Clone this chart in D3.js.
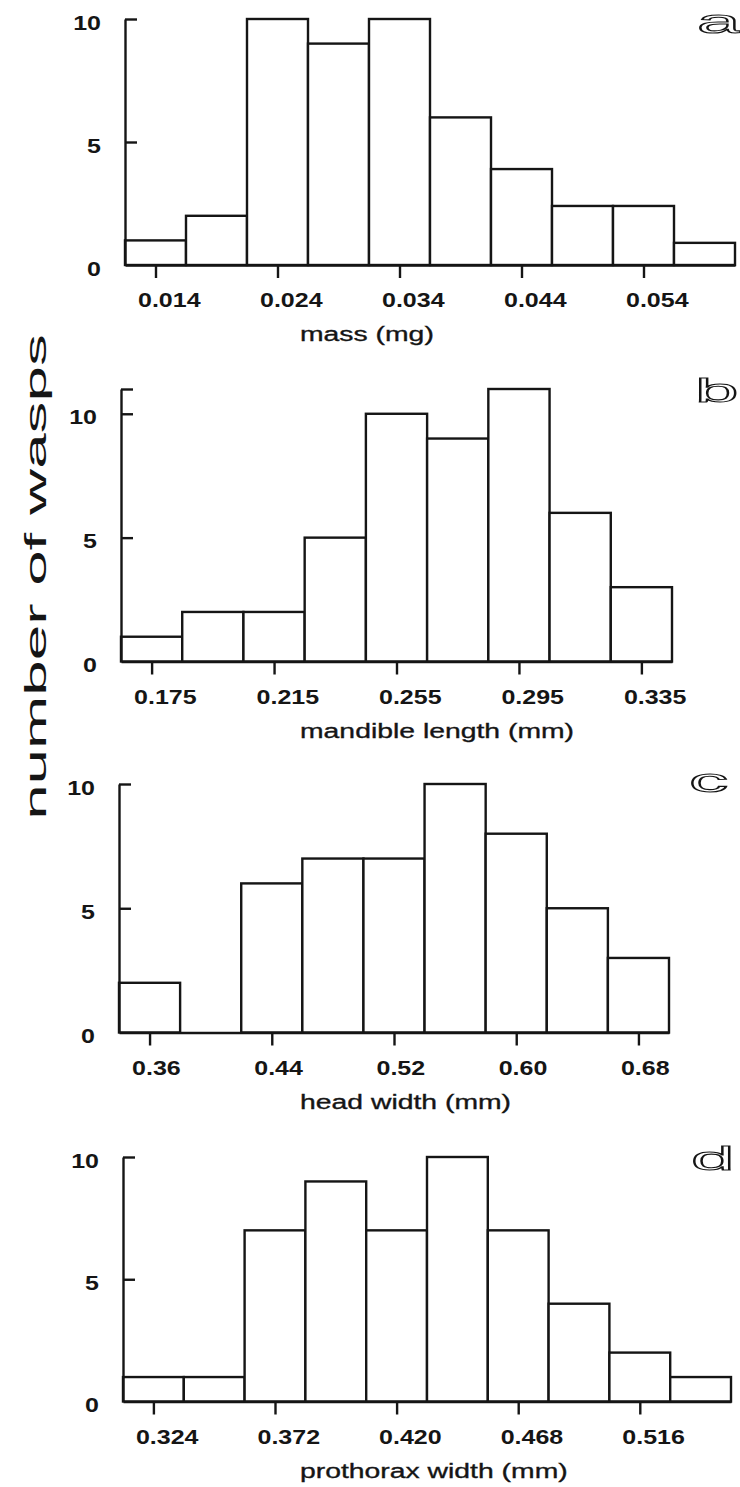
<!DOCTYPE html>
<html><head><meta charset="utf-8">
<script src="https://cdn.jsdelivr.net/npm/d3@7"></script>
<style>body{margin:0;background:#fff}svg{display:block}</style>
</head><body>
<script>
// ---------- data ----------
const massCenters = [0.014, 0.019, 0.024, 0.029, 0.034, 0.039, 0.044, 0.049, 0.054, 0.059];
const massCounts  = [1, 2, 10, 9, 10, 6, 3.9, 2.4, 2.4, 0.9];
const massTicks   = ["0.014", "0.024", "0.034", "0.044", "0.054"];

const mandibleCenters = [0.175, 0.195, 0.215, 0.235, 0.255, 0.275, 0.295, 0.315, 0.335];
const mandibleCounts  = [1, 2, 2, 5, 10, 9, 11, 6, 3];
const mandibleTicks   = ["0.175", "0.215", "0.255", "0.295", "0.335"];

const headCenters = [0.36, 0.40, 0.44, 0.48, 0.52, 0.56, 0.60, 0.64, 0.68];
const headCounts  = [2, 0, 6, 7, 7, 10, 8, 5, 3];
const headTicks   = ["0.36", "0.44", "0.52", "0.60", "0.68"];

const prothoraxCenters = [0.324, 0.348, 0.372, 0.396, 0.420, 0.444, 0.468, 0.492, 0.516, 0.540];
const prothoraxCounts  = [1, 1, 7, 9, 7, 10, 7, 4, 2, 1];
const prothoraxTicks   = ["0.324", "0.372", "0.420", "0.468", "0.516"];

const binWidths   = [0.005, 0.02, 0.04, 0.024];
const yMaxima     = [10, 11, 10, 10];
const yTickValues = [0, 5, 10];
const axisTitles  = ["mass (mg)", "mandible length (mm)", "head width (mm)", "prothorax width (mm)"];
const panelLetters = ["a", "b", "c", "d"];
const yAxisTitle  = "number of wasps";

// ---------- layout ----------
const W = 740, H = 1487;
const layout = [
  {left:125, right:735, top:19,   bottom:265,    lx:697, ly:33},
  {left:121, right:672, top:389,  bottom:661.5,  lx:695, ly:402},
  {left:119, right:669, top:784,  bottom:1032.5, lx:689, ly:792},
  {left:123, right:731, top:1157, bottom:1401.5, lx:691, ly:1170}
];
const ink = "#151515";
const SW = 2.4;
const sx = 1.25;

const centersList = [massCenters, mandibleCenters, headCenters, prothoraxCenters];
const countsList  = [massCounts, mandibleCounts, headCounts, prothoraxCounts];
const ticksList   = [massTicks, mandibleTicks, headTicks, prothoraxTicks];

const svg = d3.select("body").append("svg").attr("width", W).attr("height", H)
  .style("font-family", "'Liberation Sans', Arial, sans-serif");
svg.append("rect").attr("width", W).attr("height", H).attr("fill", "#fff");

centersList.forEach((centers, p) => {
  const L = layout[p], bw = binWidths[p];
  const counts = countsList[p];
  const x = d3.scaleLinear()
    .domain([centers[0] - bw/2, centers[centers.length-1] + bw/2])
    .range([L.left, L.right]);
  const y = d3.scaleLinear().domain([0, yMaxima[p]]).range([L.bottom, L.top]);
  const g = svg.append("g");

  // bars
  g.selectAll("rect.bar").data(centers.map((c,i)=>({c, v:counts[i]})).filter(d=>d.v>0))
    .join("rect").attr("class","bar")
    .attr("x", d => x(d.c - bw/2))
    .attr("width", d => x(d.c + bw/2) - x(d.c - bw/2))
    .attr("y", d => y(d.v))
    .attr("height", d => y(0) - y(d.v))
    .attr("fill", "#fff").attr("stroke", ink).attr("stroke-width", SW);

  // x axis
  const tickNums = ticksList[p].map(Number);
  const xa = g.append("g").attr("transform", `translate(0,${y(0)})`)
    .call(d3.axisBottom(x).tickValues(tickNums).tickSize(13).tickSizeOuter(0)
      .tickFormat((d,i)=>ticksList[p][i]));
  xa.select(".domain").attr("stroke", ink).attr("stroke-width", SW);
  xa.selectAll(".tick line").attr("stroke", ink).attr("stroke-width", SW);
  xa.selectAll(".tick text")
    .attr("x", 0).attr("y", 0).attr("dy", null)
    .attr("text-anchor", "start")
    .attr("transform", `translate(-18,42) scale(${sx},1)`)
    .attr("font-size", 20).attr("font-weight", "bold").attr("fill", ink);

  // y axis
  const yt = yMaxima[p] > 10 ? yTickValues.concat([yMaxima[p]]) : yTickValues;
  const ya = g.append("g").attr("transform", `translate(${L.left},0)`)
    .call(d3.axisLeft(y).tickValues(yt).tickSizeInner(-12).tickSizeOuter(0)
      .tickFormat(d => yTickValues.includes(d) ? String(d) : ""));
  ya.select(".domain").attr("stroke", ink).attr("stroke-width", SW);
  ya.selectAll(".tick line").attr("stroke", ink).attr("stroke-width", SW);
  ya.selectAll(".tick text")
    .attr("x", 0).attr("y", 0).attr("dy", null)
    .attr("text-anchor", "end")
    .attr("transform", `translate(-24,10) scale(${sx},1)`)
    .attr("font-size", 20).attr("font-weight", "bold").attr("fill", ink);
  ya.selectAll(".tick").filter(d => d === 0).select("line").remove();

  // axis title
  g.append("text").text(axisTitles[p])
    .attr("transform", `translate(300,${y(0)+76}) scale(1.35,1)`)
    .attr("font-size", 21).attr("fill", ink)
    .attr("stroke", ink).attr("stroke-width", 0.35);

  // panel letter (outlined)
  g.append("text").text(panelLetters[p])
    .attr("transform", `translate(${L.lx},${L.ly}) scale(2.3,1)`)
    .attr("font-size", 34).attr("fill", "#fff")
    .attr("stroke", ink).attr("stroke-width", 1.1);
});

// shared y-axis title
svg.append("text").text(yAxisTitle)
  .attr("transform", "translate(46,577) rotate(-90) scale(2.2,1)")
  .attr("text-anchor", "middle")
  .attr("font-size", 29).attr("fill", ink);
</script>
</body></html>
